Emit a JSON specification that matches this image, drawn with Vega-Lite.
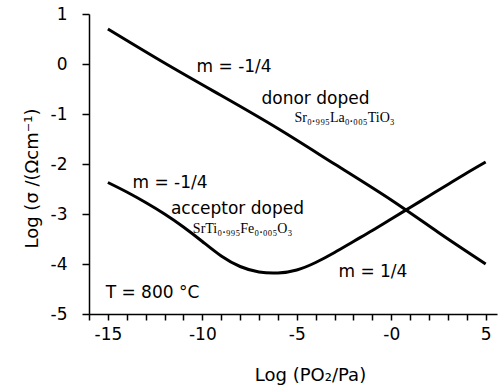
{
  "$schema": "https://vega.github.io/schema/vega-lite/v6.json",
  "width": 408,
  "height": 300,
  "autosize": {"type": "none"},
  "padding": {"left": 89, "top": 14, "right": 3, "bottom": 71},
  "config": {
    "view": {"stroke": null},
    "font": "DejaVu Sans",
    "axis": {
      "domainColor": "#000000",
      "domainWidth": 1.5,
      "tickColor": "#000000",
      "tickWidth": 1.5,
      "labelColor": "#000000",
      "titleColor": "#000000",
      "labelFont": "DejaVu Sans",
      "titleFont": "DejaVu Sans",
      "labelFontSize": 17,
      "titleFontSize": 18,
      "titleFontWeight": "normal",
      "grid": false
    }
  },
  "datasets": {
    "donor": [
      {"logp": -15, "logs": 0.7},
      {"logp": -12, "logs": 0.02},
      {"logp": -9, "logs": -0.63},
      {"logp": -6, "logs": -1.29},
      {"logp": -3, "logs": -2.0},
      {"logp": 0, "logs": -2.72},
      {"logp": 2.5, "logs": -3.37},
      {"logp": 5, "logs": -4.0}
    ],
    "acceptor": [
      {"logp": -15, "logs": -2.37},
      {"logp": -14, "logs": -2.56},
      {"logp": -13, "logs": -2.77},
      {"logp": -12, "logs": -3.0},
      {"logp": -11, "logs": -3.26},
      {"logp": -10, "logs": -3.55},
      {"logp": -9, "logs": -3.84},
      {"logp": -8, "logs": -4.05},
      {"logp": -7, "logs": -4.16},
      {"logp": -6, "logs": -4.18},
      {"logp": -5, "logs": -4.12},
      {"logp": -4, "logs": -3.97},
      {"logp": -3, "logs": -3.77},
      {"logp": -2, "logs": -3.55},
      {"logp": -1, "logs": -3.33},
      {"logp": 0, "logs": -3.1},
      {"logp": 1, "logs": -2.87},
      {"logp": 2, "logs": -2.64},
      {"logp": 3, "logs": -2.41},
      {"logp": 4, "logs": -2.18},
      {"logp": 5, "logs": -1.96}
    ],
    "labels": [
      {"logp": -8.32, "logs": -0.16, "text": "m = -1/4"},
      {"logp": -4.01, "logs": -0.8, "text": "donor doped"},
      {"logp": -11.71, "logs": -2.48, "text": "m = -1/4"},
      {"logp": -8.14, "logs": -3.0, "text": "acceptor doped"},
      {"logp": -0.97, "logs": -4.26, "text": "m = 1/4"},
      {"logp": -12.64, "logs": -4.68, "text": "T = 800 °C"}
    ],
    "formulas": [
      {"logp": -2.47, "logs": -1.16, "text": "Sr₀.₉₉₅La₀.₀₀₅TiO₃"},
      {"logp": -7.87, "logs": -3.38, "text": "SrTi₀.₉₉₅Fe₀.₀₀₅O₃"}
    ]
  },
  "encoding": {
    "x": {
      "field": "logp",
      "type": "quantitative",
      "scale": {"domain": [-16, 5.6], "nice": false, "zero": false},
      "axis": {
        "title": "Log (PO₂/Pa)",
        "values": [-16, -15, -14, -13, -12, -11, -10, -9, -8, -7, -6, -5, -4, -3, -2, -1, 0, 1, 2, 3, 4, 5],
        "labelExpr": "datum.value % 5 === 0 ? (datum.value === 0 ? '-0' : '' + datum.value) : ''",
        "tickSize": 6,
        "labelPadding": 6,
        "labelFlush": false,
        "labelOverlap": false,
        "titleX": 221,
        "titleY": 66,
        "titleAlign": "center",
        "titleBaseline": "alphabetic"
      }
    },
    "y": {
      "field": "logs",
      "type": "quantitative",
      "scale": {"domain": [-5, 1], "nice": false, "zero": false},
      "axis": {
        "title": "Log (σ /(Ωcm⁻¹)",
        "values": [-5, -4, -3, -2, -1, 0, 1],
        "labelExpr": "'' + datum.value",
        "tickSize": 7,
        "labelPadding": 15,
        "labelFlush": false,
        "labelOverlap": false,
        "titleX": -52,
        "titleY": 164,
        "titleAngle": 270,
        "titleAlign": "center",
        "titleBaseline": "alphabetic"
      }
    }
  },
  "layer": [
    {
      "mark": {"type": "rule", "color": "#333333", "strokeWidth": 2},
      "encoding": {"y": {"datum": 1}, "x": null}
    },
    {
      "data": {"name": "donor"},
      "mark": {"type": "line", "color": "#000000", "strokeWidth": 3, "interpolate": "natural"}
    },
    {
      "data": {"name": "acceptor"},
      "mark": {"type": "line", "color": "#000000", "strokeWidth": 3, "interpolate": "natural"}
    },
    {
      "data": {"name": "labels"},
      "mark": {"type": "text", "font": "DejaVu Sans", "fontSize": 17, "align": "center", "baseline": "alphabetic", "color": "#000000"},
      "encoding": {"text": {"field": "text"}}
    },
    {
      "data": {"name": "formulas"},
      "mark": {"type": "text", "font": "Liberation Serif", "fontSize": 14, "align": "center", "baseline": "alphabetic", "color": "#000000"},
      "encoding": {"text": {"field": "text"}}
    }
  ]
}
